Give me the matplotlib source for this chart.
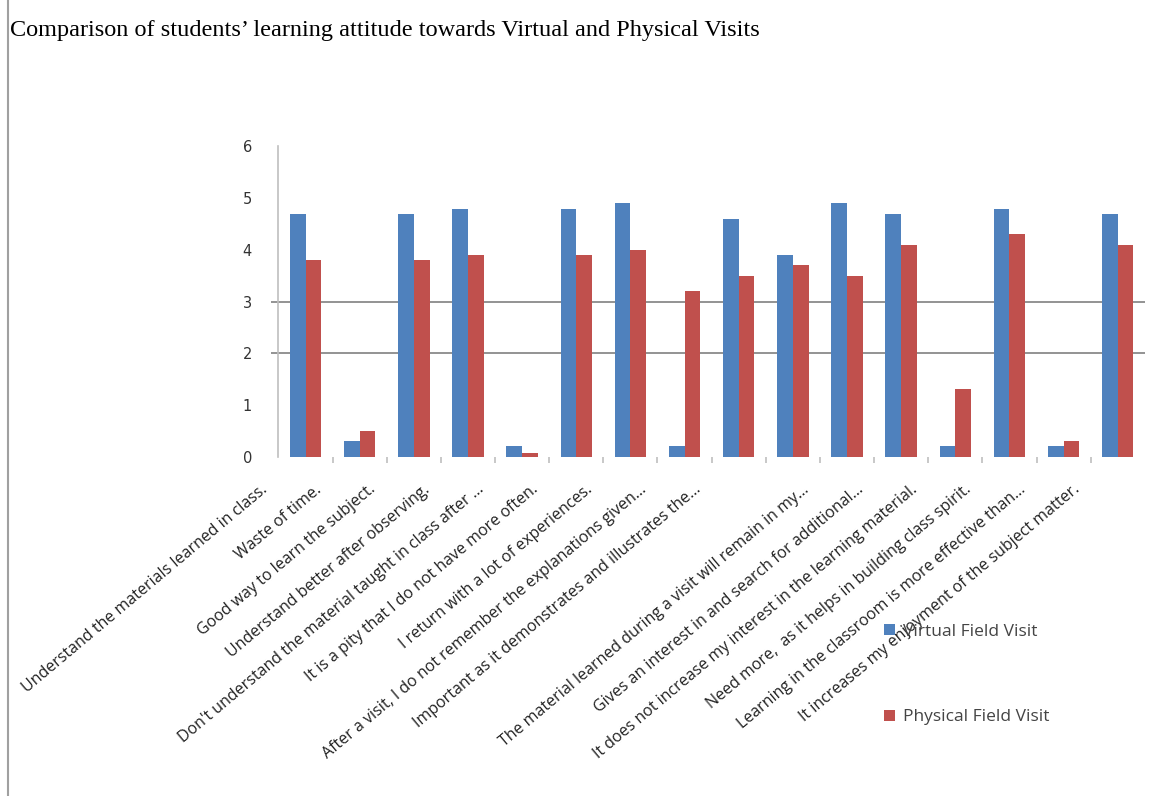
import numpy as np
import matplotlib
matplotlib.use("Agg")
import matplotlib.pyplot as plt
from matplotlib.lines import Line2D
import matplotlib.transforms as mtransforms

# statements on the x axis
statements = [
    "Understand the materials learned in class.",
    "Waste of time.",
    "Good way to learn the subject.",
    "Understand better after observing.",
    "Don't understand the material taught in class after ...",
    "It is a pity that I do not have more often.",
    "I return with a lot of experiences.",
    "After a visit, I do not remember the explanations given...",
    "Important as it demonstrates and illustrates the...",
    "The material learned during a visit will remain in my...",
    "Gives an interest in and search for additional...",
    "It does not increase my interest in the learning material.",
    "Need more,  as it helps in building class spirit.",
    "Learning in the classroom is more effective than...",
    "It increases my enjoyment of the subject matter.",
]
# the reference has 16 groups but only 15 labels
virtual = [4.7, 0.3, 4.7, 4.8, 0.2, 4.8, 4.9, 0.2, 4.6, 3.9, 4.9, 4.7, 0.2, 4.8, 0.2, 4.7]
physical = [3.8, 0.5, 3.8, 3.9, 0.08, 3.9, 4.0, 3.2, 3.5, 3.7, 3.5, 4.1, 1.3, 4.3, 0.3, 4.1]

labels = statements[:9] + [""] + statements[9:]

blue = "#4F81BD"
red = "#C0504D"

fig = plt.figure(figsize=(11.53, 7.96), dpi=100)
ax = fig.add_axes([0.2415, 0.4263, 0.7514, 0.3897])

x = np.arange(len(virtual))
w = 0.29
ax.bar(x - w / 2, virtual, w, color=blue, label="Virtual Field Visit", zorder=2)
ax.bar(x + w / 2, physical, w, color=red, label="Physical Field Visit", zorder=2)

ax.set_xlim(-0.5, len(virtual) - 0.5)
ax.set_ylim(0, 6)
ax.set_yticks(range(7))
ax.tick_params(axis="y", length=0, pad=19, labelsize=10.5, labelcolor="#333333")

# gridlines only visible at 2 and 3 in the reference
for g in [2, 3]:
    ax.hlines(g, -0.009, 1, transform=ax.get_yaxis_transform(), color="#808080",
              lw=1.2, clip_on=False, zorder=1)

for s in ["top", "right", "bottom"]:
    ax.spines[s].set_visible(False)
ax.spines["left"].set_color("#BFBFBF")
ax.spines["left"].set_linewidth(1.2)

ax.set_xticks(x[:-1] + 0.5, minor=True)
ax.set_xticks(x)
ax.tick_params(axis="x", which="major", length=0)
ax.tick_params(axis="x", which="minor", length=4, color="#BFBFBF", width=1.2)
ax.set_xticklabels(labels, rotation=40, ha="right", va="top",
                   rotation_mode="anchor", fontsize=11.5, color="#222222",
                   family="Open Sans")
offset = mtransforms.ScaledTranslation(-45 / 100, -20 / 100, fig.dpi_scale_trans)
for lab in ax.get_xticklabels():
    lab.set_transform(lab.get_transform() + offset)

leg = ax.legend(loc="upper left", bbox_to_anchor=(0.7535, 0.236), bbox_transform=fig.transFigure,
                frameon=False, handlelength=0.6, handleheight=0.6,
                handletextpad=0.45, labelspacing=4.0,
                prop={"family": "Open Sans", "size": 12.5})
for t in leg.get_texts():
    t.set_color("#444444")

fig.text(0.009, 0.962, "Comparison of students\u2019 learning attitude towards Virtual and Physical Visits",
         family="Liberation Serif", fontsize=17.5, va="center", ha="left", color="black")

fig.add_artist(Line2D([0.007, 0.007], [0, 1], transform=fig.transFigure, color="#A0A0A0", lw=1.5))

fig.savefig("out.png", dpi=100)
